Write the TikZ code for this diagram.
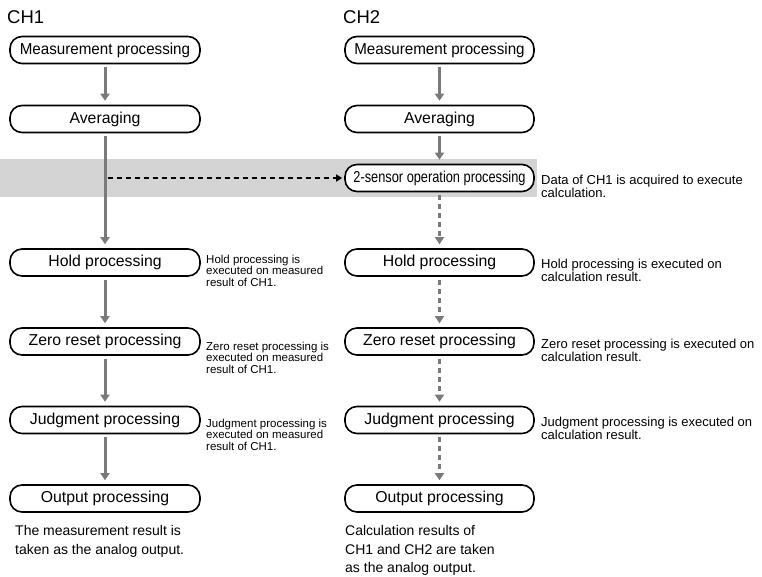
\documentclass[tikz,border=0pt]{standalone}
\usepackage{fontspec}
\setmainfont{Liberation Sans}
\usetikzlibrary{arrows.meta}
\definecolor{bandgray}{HTML}{D4D4D4}
\definecolor{arrgray}{HTML}{7A7A7A}
\begin{document}
\begin{tikzpicture}[x=1pt,y=-1pt,
  pbox/.style={draw, line width=1.6pt, rounded corners=12pt, minimum width=190pt,
    minimum height=27pt, fill=white, inner sep=0pt, font=\fontsize{15.8}{18}\selectfont},
  garrow/.style={draw=arrgray, line width=3pt, -{Triangle[width=9pt,length=7pt]},
    shorten <=3pt, shorten >=4pt},
  gdarrow/.style={garrow, dash pattern=on 5pt off 4pt},
  darrow/.style={draw=black, line width=1.5pt, dash pattern=on 5pt off 4pt,
    -{Triangle[width=7pt,length=6pt]}, shorten >=2pt},
  rnote/.style={anchor=north west, align=left, inner sep=0pt, font=\fontsize{13}{12.5}\selectfont},
  lnote/.style={anchor=north west, align=left, inner sep=0pt, font=\fontsize{11.5}{11.3}\selectfont},
  bnote/.style={anchor=north west, align=left, inner sep=0pt, font=\fontsize{14}{18.5}\selectfont},
  chlabel/.style={anchor=base west, inner sep=0pt, font=\fontsize{18.5}{22}\selectfont}
]
\useasboundingbox (0,0) rectangle (762,576);
\fill[bandgray] (0,159) rectangle (537,197);

% labels
\node[chlabel] (ch1) at (7,23) {CH1};
\node[chlabel] (ch2) at (343,23) {CH2};

% left column
\node[pbox] (m1) at (105,50) {\scalebox{0.96}[1]{Measurement processing}};
\node[pbox] (a1) at (105,119) {Averaging};
\node[pbox] (h1) at (105,262.5) {Hold processing};
\node[pbox] (z1) at (105,341.5) {Zero reset processing};
\node[pbox] (j1) at (105,420) {Judgment processing};
\node[pbox] (o1) at (105,498.5) {Output processing};

% right column
\node[pbox, minimum width=189pt] (m2) at (439.5,50) {\scalebox{0.96}[1]{Measurement processing}};
\node[pbox, minimum width=189pt] (a2) at (439.5,119) {Averaging};
\node[pbox, minimum width=189pt] (s2) at (439.5,178) {\scalebox{0.81}[1]{2-sensor operation processing}};
\node[pbox, minimum width=189pt] (h2) at (439.5,262.5) {Hold processing};
\node[pbox, minimum width=189pt] (z2) at (439.5,341.5) {Zero reset processing};
\node[pbox, minimum width=189pt] (j2) at (439.5,420) {Judgment processing};
\node[pbox, minimum width=189pt] (o2) at (439.5,498.5) {Output processing};

% left arrows
\draw[garrow] (m1) -- (a1);
\draw[garrow] (a1) -- (h1);
\draw[garrow] (h1) -- (z1);
\draw[garrow] (z1) -- (j1);
\draw[garrow] (j1) -- (o1);

% right arrows
\draw[garrow] (m2) -- (a2);
\draw[garrow] (a2) -- (s2);
\draw[gdarrow] (s2) -- (h2);
\draw[gdarrow] (h2) -- (z2);
\draw[gdarrow] (z2) -- (j2);
\draw[gdarrow] (j2) -- (o2);

% cross arrow
\coordinate (jn) at (107.5,178);
\draw[darrow] (jn) -- (s2);

% right notes
\node[rnote] (n1) at (541,175) {Data of CH1 is acquired to execute\\calculation.};
\node[rnote] (n2) at (541,259) {Hold processing is executed on\\calculation result.};
\node[rnote] (n3) at (541,339) {Zero reset processing is executed on\\calculation result.};
\node[rnote] (n4) at (541,417) {Judgment processing is executed on\\calculation result.};

% left notes
\node[lnote] (l2) at (206,255) {Hold processing is\\executed on measured\\result of CH1.};
\node[lnote] (l3) at (206,342) {Zero reset processing is\\executed on measured\\result of CH1.};
\node[lnote] (l4) at (206,419) {Judgment processing is\\executed on measured\\result of CH1.};

% bottom notes
\node[bnote] (b1) at (15,525.5) {The measurement result is\\taken as the analog output.};
\node[bnote] (b2) at (345,525.5) {Calculation results of\\CH1 and CH2 are taken\\as the analog output.};
\end{tikzpicture}
\end{document}
